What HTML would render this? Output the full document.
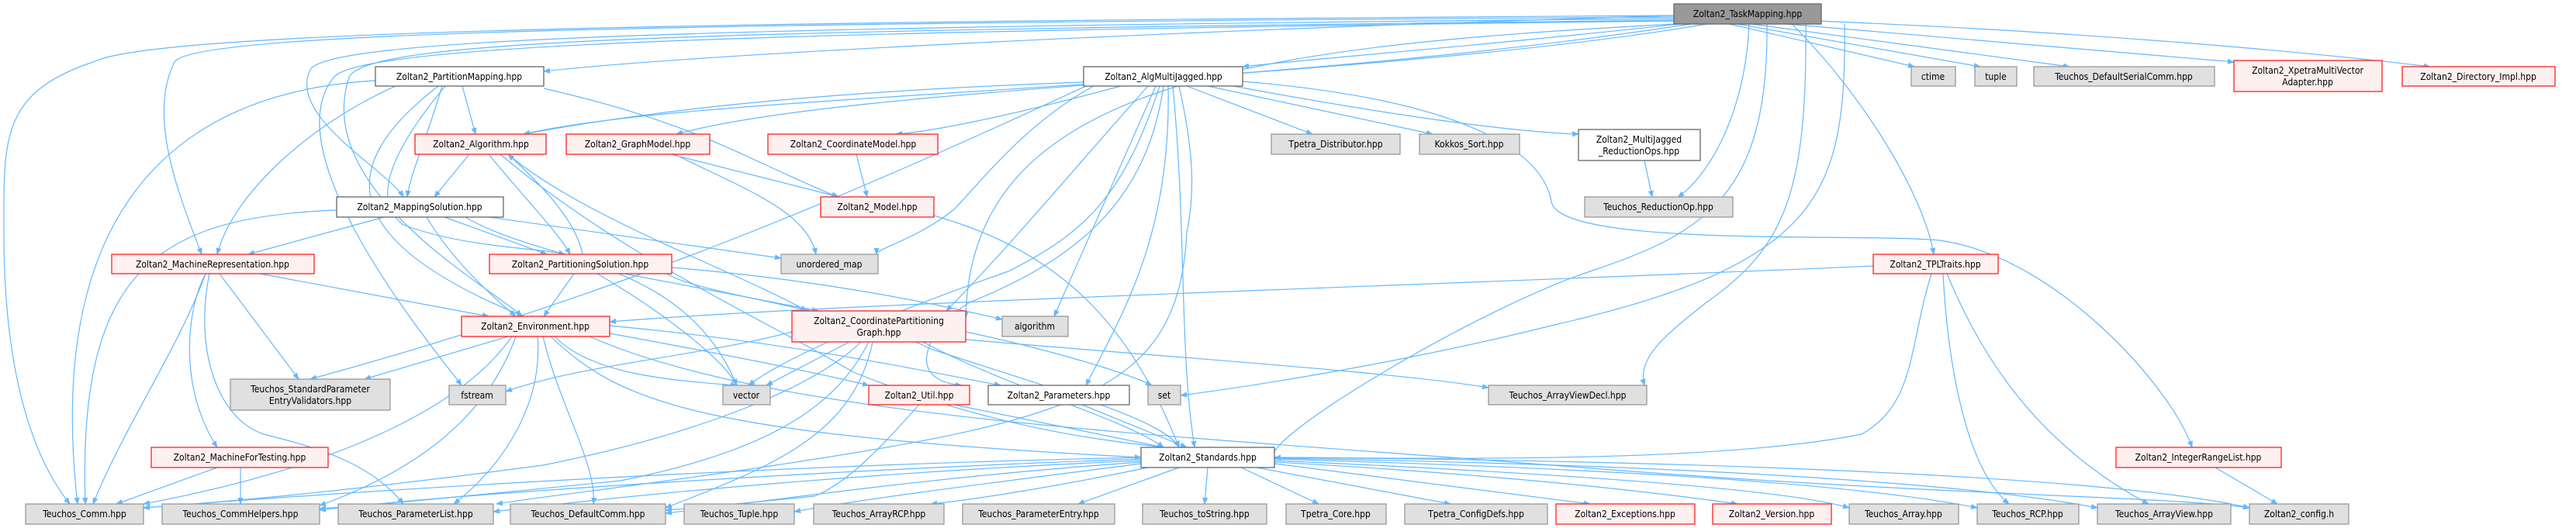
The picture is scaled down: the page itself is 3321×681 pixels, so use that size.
<!DOCTYPE html>
<html><head><meta charset="utf-8"><style>
html,body{margin:0;padding:0;background:#fff;}
svg{display:block;}
text{font-family:"DejaVu Sans Condensed","Liberation Sans",sans-serif;font-size:12px;fill:#000;}
.e{fill:none;stroke:#63b8ff;stroke-width:1.2;}
.w{fill:#fff;stroke:#666;stroke-width:1.3}
.r{fill:#fff0f0;stroke:#ff2020;stroke-width:1.3}
.g{fill:#e0e0e0;stroke:#999;stroke-width:1.3}
.d{fill:#999;stroke:#666;stroke-width:1.3}
</style></head><body>
<svg width="3321" height="681" viewBox="0 0 3321 681" xmlns="http://www.w3.org/2000/svg">
<defs><marker id="a" viewBox="0 0 10 10" refX="9" refY="5" markerWidth="9" markerHeight="9" markerUnits="userSpaceOnUse" orient="auto"><path d="M0,1 L10,5 L0,9 z" fill="#63b8ff"/></marker></defs>
<g class="e" marker-end="url(#a)">
<!-- TaskMapping edges -->
<path d="M2158 20 C1500 40 900 70 701 92"/>
<path d="M2165 31 C1900 60 1700 75 1602 86"/>
<path d="M2158 22 C900 30 250 40 225 80 C190 150 230 250 260 328"/>
<path d="M2158 24 C900 35 420 50 400 90 C370 150 500 220 520 254"/>
<path d="M2158 20 C900 28 200 40 120 80 C0 120 5 180 5 300 C5 500 50 600 90 650"/>
<path d="M2158 26 C900 40 470 50 450 100 C400 250 650 380 672 408"/>
<path d="M2158 27 C900 42 460 60 430 100 C350 200 560 450 595 497"/>
<path d="M2200 31 C1800 100 1100 110 872 173"/>
<path d="M2180 31 C1600 120 900 120 675 173"/>
<path d="M2230 31 L2468 86"/>
<path d="M2240 31 L2553 86"/>
<path d="M2258 31 L2668 86"/>
<path d="M2268 28 L2880 80"/>
<path d="M2290 25 C2700 40 3000 70 3133 86"/>
<path d="M2310 31 C2400 120 2480 250 2493 328"/>
<path d="M2255 31 C2250 150 2200 230 2163 254"/>
<path d="M2278 31 C2280 250 2200 300 2050 350 C1900 400 1620 570 1643 590"/>
<path d="M2328 31 C2330 250 2300 320 2200 390 C2150 430 2110 460 2120 497"/>
<path d="M2378 31 C2380 250 2350 340 2000 420 C1800 470 1600 500 1522 510"/>
<path d="M2160 31 C1600 60 1250 110 1245 410"/>
<!-- PartitionMapping -->
<path d="M596 111 L613 173"/>
<path d="M570 111 C550 180 530 220 525 254"/>
<path d="M510 111 C400 160 300 250 280 328"/>
<path d="M574 111 C500 200 480 260 520 290 C600 320 700 320 728 328"/>
<path d="M565 111 C450 200 410 300 675 408"/>
<path d="M484 104 C200 120 60 300 100 650"/>
<path d="M701 114 C900 160 950 200 1080 254"/>
<!-- AlgMultiJagged -->
<path d="M1397 106 C1000 120 800 150 675 173"/>
<path d="M1445 111 C1300 150 1200 170 1155 173"/>
<path d="M1530 111 L1692 173"/>
<path d="M1557 111 L1847 173"/>
<path d="M1590 111 C1800 150 1950 170 2035 173"/>
<path d="M1410 111 C1320 160 1260 240 1230 270 C1180 310 1130 320 1130 328"/>
<path d="M1480 111 C1400 200 1300 320 1220 401"/>
<path d="M1490 111 C1450 200 1390 340 1359 408"/>
<path d="M1495 111 C1450 250 1400 300 1300 350 C1100 420 1000 470 965 497"/>
<path d="M1500 111 C1480 250 1400 330 1250 390 C1200 420 1160 490 1240 497"/>
<path d="M1506 111 C1510 300 1450 400 1400 497"/>
<path d="M1512 111 C1530 300 1520 450 1540 577"/>
<path d="M1602 105 C1900 130 1990 200 2000 260 C2010 320 2400 300 2500 310 C2650 330 2800 500 2826 577"/>
<path d="M1400 111 C1100 250 800 380 400 489"/>
<path d="M1520 111 C1540 200 1540 250 1530 300 C1520 500 1400 540 1000 600 C800 630 700 640 640 650"/>
<!-- Algorithm -->
<path d="M605 199 L560 254"/>
<path d="M630 199 C680 260 720 300 735 328"/>
<path d="M655 199 C750 280 950 350 1040 401"/>
<path d="M645 199 C800 330 1000 420 1100 480 C1300 560 1450 570 1500 577"/>
<!-- GraphModel / CoordModel / Model -->
<path d="M865 199 L1082 254"/>
<path d="M870 199 C950 240 1040 270 1052 328"/>
<path d="M1104 199 L1118 254"/>
<path d="M1204 278 C1350 320 1450 400 1520 577"/>
<!-- MJR -->
<path d="M2120 207 L2130 254"/>
<!-- MappingSolution -->
<path d="M495 280 L320 328"/>
<path d="M573 280 L705 328"/>
<path d="M630 280 L1007 333"/>
<path d="M550 280 C580 330 620 370 665 408"/>
<path d="M434 271 C200 280 100 350 110 650"/>
<path d="M600 280 C700 340 880 330 950 497"/>
<!-- MachineRepresentation -->
<path d="M335 353 L630 408"/>
<path d="M283 353 L385 489"/>
<path d="M265 353 C240 400 230 500 280 577"/>
<path d="M265 353 C230 450 160 550 120 650"/>
<path d="M270 353 C250 450 280 540 340 560 C420 580 480 600 520 650"/>
<!-- PartitionSolution -->
<path d="M740 353 L701 408"/>
<path d="M805 353 L1055 401"/>
<path d="M770 353 C850 400 930 460 950 497"/>
<path d="M866 345 C1050 360 1200 390 1292 412"/>
<path d="M860 353 C900 380 1100 400 1200 450 C1350 500 1500 540 1520 577"/>
<path d="M752 353 C760 300 700 240 655 199"/>
<!-- CPG -->
<path d="M1021 428 C900 460 750 470 652 505"/>
<path d="M1095 441 L988 497"/>
<path d="M1245 428 C1350 450 1450 480 1485 497"/>
<path d="M1245 438 C1500 460 1800 480 1919 500"/>
<path d="M1110 441 C1050 500 900 560 700 600 C400 640 250 650 185 655"/>
<path d="M1120 441 C1080 520 1000 580 800 620 C600 640 500 650 412 656"/>
<path d="M1125 441 C1100 560 1000 600 858 655"/>
<path d="M1190 441 C1300 500 1450 540 1500 577"/>
<!-- Environment -->
<path d="M655 434 L470 489"/>
<path d="M786 430 C950 460 1050 480 1120 497"/>
<path d="M786 420 C1000 440 1150 470 1290 497"/>
<path d="M660 434 C600 520 450 600 185 650"/>
<path d="M665 434 C620 560 500 620 412 652"/>
<path d="M693 434 C700 520 650 600 585 650"/>
<path d="M700 434 C720 520 770 600 765 650"/>
<path d="M710 434 C800 520 900 560 1471 590"/>
<path d="M760 434 C1000 540 1500 560 2000 600 C2500 640 2800 640 2900 655"/>
<path d="M715 434 C760 480 850 490 950 497"/>
<!-- TPLTraits -->
<path d="M2415 343 C1800 370 1100 390 786 415"/>
<path d="M2490 353 C2460 450 2470 520 2400 560 C2200 600 1800 590 1643 590"/>
<path d="M2505 353 C2510 450 2530 600 2590 650"/>
<path d="M2510 353 C2550 450 2620 570 2770 650"/>
<!-- Util/Params/MFT/IRL -->
<path d="M1185 522 C1150 560 1100 620 1050 640 C950 650 900 655 858 658"/>
<path d="M1230 522 L1500 577"/>
<path d="M1395 522 L1530 577"/>
<path d="M280 603 L150 650"/>
<path d="M310 603 L310 650"/>
<path d="M2856 603 L2936 650"/>
<!-- Standards -->
<path d="M1471 590 C1000 600 500 630 185 655"/>
<path d="M1471 592 C1100 605 600 635 412 658"/>
<path d="M1471 594 C1100 610 800 640 636 660"/>
<path d="M1471 596 C1200 615 1000 645 858 662"/>
<path d="M1471 598 C1300 620 1100 645 1024 660"/>
<path d="M1480 603 C1350 630 1250 645 1200 650"/>
<path d="M1520 603 L1390 650"/>
<path d="M1557 603 L1553 650"/>
<path d="M1600 603 L1700 650"/>
<path d="M1620 603 L1870 650"/>
<path d="M1643 598 L2050 650"/>
<path d="M1643 596 C1900 610 2100 630 2240 650"/>
<path d="M1643 594 C2000 610 2300 630 2384 655"/>
<path d="M1643 592 C2100 605 2400 625 2549 655"/>
<path d="M1643 591 C2200 600 2550 625 2704 655"/>
<path d="M1643 590 C2300 595 2750 620 2900 655"/>
</g>
<!-- nodes -->
<g>
<rect class="d" x="2158" y="5" width="190" height="26"/><text x="2253" y="22" text-anchor="middle">Zoltan2_TaskMapping.hpp</text>
<rect class="w" x="484" y="86" width="217" height="25"/><text x="592" y="103" text-anchor="middle">Zoltan2_PartitionMapping.hpp</text>
<rect class="w" x="1397" y="86" width="205" height="25"/><text x="1500" y="103" text-anchor="middle">Zoltan2_AlgMultiJagged.hpp</text>
<rect class="g" x="2464" y="86" width="57" height="25"/><text x="2492" y="103" text-anchor="middle">ctime</text>
<rect class="g" x="2546" y="86" width="54" height="25"/><text x="2573" y="103" text-anchor="middle">tuple</text>
<rect class="g" x="2622" y="86" width="233" height="25"/><text x="2738" y="103" text-anchor="middle">Teuchos_DefaultSerialComm.hpp</text>
<rect class="r" x="2880" y="78" width="191" height="40"/><text x="2975" y="95" text-anchor="middle">Zoltan2_XpetraMultiVector</text><text x="2975" y="110" text-anchor="middle">Adapter.hpp</text>
<rect class="r" x="3097" y="86" width="197" height="25"/><text x="3195" y="103" text-anchor="middle">Zoltan2_Directory_Impl.hpp</text>
<rect class="r" x="535" y="173" width="169" height="26"/><text x="620" y="190" text-anchor="middle">Zoltan2_Algorithm.hpp</text>
<rect class="r" x="730" y="173" width="185" height="26"/><text x="822" y="190" text-anchor="middle">Zoltan2_GraphModel.hpp</text>
<rect class="r" x="990" y="173" width="219" height="26"/><text x="1100" y="190" text-anchor="middle">Zoltan2_CoordinateModel.hpp</text>
<rect class="g" x="1639" y="173" width="166" height="26"/><text x="1722" y="190" text-anchor="middle">Tpetra_Distributor.hpp</text>
<rect class="g" x="1830" y="173" width="129" height="26"/><text x="1894" y="190" text-anchor="middle">Kokkos_Sort.hpp</text>
<rect class="w" x="2035" y="167" width="157" height="40"/><text x="2113" y="184" text-anchor="middle">Zoltan2_MultiJagged</text><text x="2113" y="199" text-anchor="middle">_ReductionOps.hpp</text>
<rect class="w" x="434" y="254" width="215" height="26"/><text x="541" y="271" text-anchor="middle">Zoltan2_MappingSolution.hpp</text>
<rect class="r" x="1058" y="254" width="146" height="26"/><text x="1131" y="271" text-anchor="middle">Zoltan2_Model.hpp</text>
<rect class="g" x="2043" y="254" width="191" height="26"/><text x="2138" y="271" text-anchor="middle">Teuchos_ReductionOp.hpp</text>
<rect class="r" x="144" y="328" width="261" height="25"/><text x="274" y="345" text-anchor="middle">Zoltan2_MachineRepresentation.hpp</text>
<rect class="r" x="631" y="328" width="235" height="25"/><text x="748" y="345" text-anchor="middle">Zoltan2_PartitioningSolution.hpp</text>
<rect class="g" x="1007" y="328" width="125" height="25"/><text x="1069" y="345" text-anchor="middle">unordered_map</text>
<rect class="r" x="2415" y="328" width="161" height="25"/><text x="2495" y="345" text-anchor="middle">Zoltan2_TPLTraits.hpp</text>
<rect class="r" x="595" y="408" width="191" height="26"/><text x="690" y="425" text-anchor="middle">Zoltan2_Environment.hpp</text>
<rect class="r" x="1021" y="401" width="224" height="40"/><text x="1133" y="418" text-anchor="middle">Zoltan2_CoordinatePartitioning</text><text x="1133" y="433" text-anchor="middle">Graph.hpp</text>
<rect class="g" x="1292" y="408" width="85" height="26"/><text x="1334" y="425" text-anchor="middle">algorithm</text>
<rect class="g" x="297" y="489" width="206" height="40"/><text x="400" y="506" text-anchor="middle">Teuchos_StandardParameter</text><text x="400" y="521" text-anchor="middle">EntryValidators.hpp</text>
<rect class="g" x="579" y="497" width="73" height="25"/><text x="615" y="514" text-anchor="middle">fstream</text>
<rect class="g" x="932" y="497" width="61" height="25"/><text x="962" y="514" text-anchor="middle">vector</text>
<rect class="r" x="1120" y="497" width="130" height="25"/><text x="1185" y="514" text-anchor="middle">Zoltan2_Util.hpp</text>
<rect class="w" x="1274" y="497" width="182" height="25"/><text x="1365" y="514" text-anchor="middle">Zoltan2_Parameters.hpp</text>
<rect class="g" x="1480" y="497" width="42" height="25"/><text x="1501" y="514" text-anchor="middle">set</text>
<rect class="g" x="1919" y="497" width="204" height="25"/><text x="2021" y="514" text-anchor="middle">Teuchos_ArrayViewDecl.hpp</text>
<rect class="r" x="195" y="577" width="228" height="26"/><text x="309" y="594" text-anchor="middle">Zoltan2_MachineForTesting.hpp</text>
<rect class="w" x="1471" y="577" width="172" height="26"/><text x="1557" y="594" text-anchor="middle">Zoltan2_Standards.hpp</text>
<rect class="r" x="2728" y="577" width="213" height="26"/><text x="2834" y="594" text-anchor="middle">Zoltan2_IntegerRangeList.hpp</text>
<rect class="g" x="33" y="650" width="152" height="26"/><text x="109" y="667" text-anchor="middle">Teuchos_Comm.hpp</text>
<rect class="g" x="209" y="650" width="203" height="26"/><text x="310" y="667" text-anchor="middle">Teuchos_CommHelpers.hpp</text>
<rect class="g" x="436" y="650" width="200" height="26"/><text x="536" y="667" text-anchor="middle">Teuchos_ParameterList.hpp</text>
<rect class="g" x="658" y="650" width="200" height="26"/><text x="758" y="667" text-anchor="middle">Teuchos_DefaultComm.hpp</text>
<rect class="g" x="882" y="650" width="142" height="26"/><text x="953" y="667" text-anchor="middle">Teuchos_Tuple.hpp</text>
<rect class="g" x="1049" y="650" width="168" height="26"/><text x="1133" y="667" text-anchor="middle">Teuchos_ArrayRCP.hpp</text>
<rect class="g" x="1241" y="650" width="196" height="26"/><text x="1339" y="667" text-anchor="middle">Teuchos_ParameterEntry.hpp</text>
<rect class="g" x="1473" y="650" width="160" height="26"/><text x="1553" y="667" text-anchor="middle">Teuchos_toString.hpp</text>
<rect class="g" x="1658" y="650" width="129" height="26"/><text x="1722" y="667" text-anchor="middle">Tpetra_Core.hpp</text>
<rect class="g" x="1811" y="650" width="184" height="26"/><text x="1903" y="667" text-anchor="middle">Tpetra_ConfigDefs.hpp</text>
<rect class="r" x="2006" y="650" width="179" height="26"/><text x="2095" y="667" text-anchor="middle">Zoltan2_Exceptions.hpp</text>
<rect class="r" x="2208" y="650" width="153" height="26"/><text x="2284" y="667" text-anchor="middle">Zoltan2_Version.hpp</text>
<rect class="g" x="2384" y="650" width="141" height="26"/><text x="2454" y="667" text-anchor="middle">Teuchos_Array.hpp</text>
<rect class="g" x="2549" y="650" width="131" height="26"/><text x="2614" y="667" text-anchor="middle">Teuchos_RCP.hpp</text>
<rect class="g" x="2704" y="650" width="172" height="26"/><text x="2790" y="667" text-anchor="middle">Teuchos_ArrayView.hpp</text>
<rect class="g" x="2900" y="650" width="128" height="26"/><text x="2964" y="667" text-anchor="middle">Zoltan2_config.h</text>
</g>
</svg>
</body></html>
